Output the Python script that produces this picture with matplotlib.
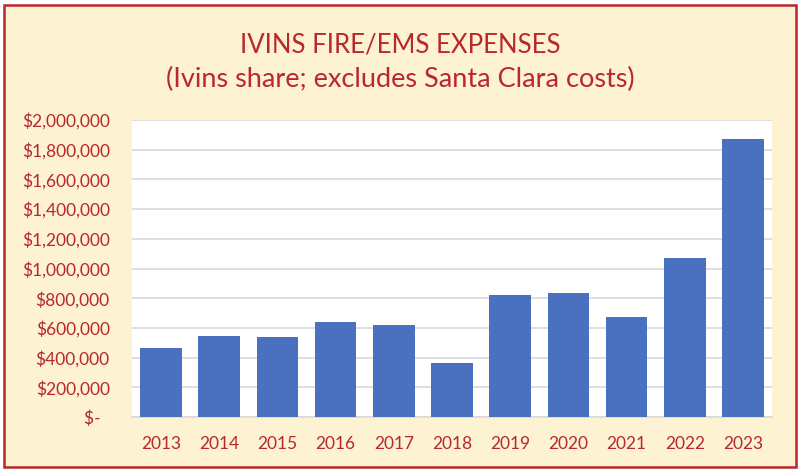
import matplotlib.pyplot as plt
from matplotlib.patches import Rectangle
from matplotlib.ticker import FuncFormatter

years = ["2013", "2014", "2015", "2016", "2017", "2018",
         "2019", "2020", "2021", "2022", "2023"]
expenses = [462000, 545000, 537000, 642000, 620000, 364000,
            822000, 835000, 671000, 1069000, 1872000]

red = "#B8282C"
cream = "#FDF2D2"

plt.rcParams["font.family"] = ["Lato", "DejaVu Sans"]

fig = plt.figure(figsize=(8, 4.73), dpi=100)
fig.patch.set_facecolor("white")

# cream panel with red border
fig.patches.append(Rectangle((4 / 800, 6 / 473), 792 / 800, 462 / 473,
                             transform=fig.transFigure, facecolor=cream,
                             edgecolor=red, linewidth=1.8, zorder=-10))

ax = fig.add_axes([132 / 800, 56 / 473, 640 / 800, 297 / 473])
ax.set_facecolor("white")

ax.bar(years, expenses, width=0.715, color="#4A71BF", zorder=3)

ax.set_ylim(0, 2000000)
ax.set_xlim(-0.5, len(years) - 0.5)
ax.set_yticks(range(0, 2000001, 200000))


def money(v, pos):
    if v == 0:
        return "$-  "
    return "${:,.0f}".format(v)


ax.yaxis.set_major_formatter(FuncFormatter(money))
ax.grid(axis="y", color="#D9D9D9", linewidth=1.2, zorder=0)
for s in ["top", "right", "left"]:
    ax.spines[s].set_visible(False)
ax.spines["bottom"].set_color("#D9D9D9")
ax.spines["bottom"].set_linewidth(1.2)
ax.tick_params(axis="both", length=0, colors=red, labelsize=12.5)
ax.tick_params(axis="x", pad=14)
ax.tick_params(axis="y", pad=16)

fig.text(0.5, 1 - 45 / 473, "IVINS FIRE/EMS EXPENSES", ha="center",
         va="center", fontsize=18.5, color=red)
fig.text(0.5, 1 - 79 / 473, "(Ivins share; excludes Santa Clara costs)",
         ha="center", va="center", fontsize=19.5, color=red)

fig.savefig("out.png", dpi=100)
